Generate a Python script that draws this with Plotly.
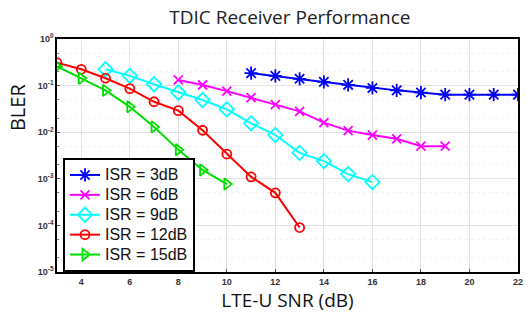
import plotly.graph_objects as go

snr_3 = [11, 12, 13, 14, 15, 16, 17, 18, 19, 20, 21, 22]
bler_3 = [0.185, 0.162, 0.14, 0.12, 0.104, 0.089, 0.079, 0.071, 0.064, 0.064, 0.064, 0.064]
snr_6 = [8, 9, 10, 11, 12, 13, 14, 15, 16, 17, 18, 19]
bler_6 = [0.132, 0.103, 0.076, 0.055, 0.039, 0.028, 0.016, 0.0108, 0.0087, 0.0072, 0.005, 0.005]
snr_9 = [5, 6, 7, 8, 9, 10, 11, 12, 13, 14, 15, 16]
bler_9 = [0.224, 0.162, 0.107, 0.071, 0.049, 0.031, 0.0155, 0.0087, 0.0036, 0.0024, 0.00126, 0.00085]
snr_12 = [3, 4, 5, 6, 7, 8, 9, 10, 11, 12, 13]
bler_12 = [0.31, 0.224, 0.144, 0.086, 0.045, 0.029, 0.011, 0.0034, 0.0011, 0.0005, 0.00009]
snr_15 = [3, 4, 5, 6, 7, 8, 9, 10]
bler_15 = [0.257, 0.144, 0.079, 0.035, 0.013, 0.0042, 0.00155, 0.00077]

y_tickvals = [1e-5, 1e-4, 1e-3, 1e-2, 1e-1, 1]
y_ticktext = ["10<sup>-5</sup>", "10<sup>-4</sup>", "10<sup>-3</sup>",
              "10<sup>-2</sup>", "10<sup>-1</sup>", "10<sup>0</sup>"]
x_tickvals = [4, 6, 8, 10, 12, 14, 16, 18, 20, 22]

series = [
    ("ISR = 3dB", snr_3, bler_3, "#0000ff", "asterisk-open", 11),
    ("ISR = 6dB", snr_6, bler_6, "#ff00ff", "x-thin-open", 9),
    ("ISR = 9dB", snr_9, bler_9, "#00ffff", "diamond-open", 11),
    ("ISR = 12dB", snr_12, bler_12, "#ff0000", "circle-open", 9),
    ("ISR = 15dB", snr_15, bler_15, "#00dd00", "triangle-right-open", 10),
]

fig = go.Figure()
for name, x, y, c, sym, sz in series:
    fig.add_trace(go.Scatter(
        x=x, y=y, name="<span style='font-size:16px'>" + name + "</span>",
        mode="lines+markers",
        line=dict(color=c, width=2),
        marker=dict(symbol=sym, size=sz, color=c, line=dict(color=c, width=1.8)),
    ))

fig.update_layout(
    width=527, height=320,
    margin=dict(l=57, r=4, t=39, b=48),
    paper_bgcolor="white", plot_bgcolor="white",
    title=dict(text="TDIC Receiver Performance", x=0.55, xanchor="center",
               y=0.947, yanchor="middle",
               font=dict(family="Open Sans", size=19, color="#222")),
    showlegend=True,
    legend=dict(x=0.013, y=0.0, xanchor="left", yanchor="bottom",
                bgcolor="white", bordercolor="black", borderwidth=2,
                font=dict(family="Arial", size=13, color="#111"),
                tracegroupgap=0, itemwidth=30),
    xaxis=dict(range=[3, 22.001], tickvals=x_tickvals,
               showline=True, linecolor="black", linewidth=1.5, mirror=True,
               gridcolor="#e2e2e2", zeroline=False, ticks="inside", ticklen=3,
               tickcolor="#555",
               tickfont=dict(family="Arial", size=9, color="#333", weight="bold"),
               title=dict(text="LTE-U SNR (dB)", standoff=8,
                          font=dict(family="Open Sans", size=19, color="#111"))),
    yaxis=dict(type="log", range=[-5, 0], tickvals=y_tickvals, ticktext=y_ticktext,
               showline=True, linecolor="black", linewidth=1.5, mirror=True,
               gridcolor="#e2e2e2", zeroline=False, ticks="inside", ticklen=3,
               tickcolor="#555",
               minor=dict(showgrid=True, gridcolor="#f2f2f2", griddash="dot",
                          ticks="inside", ticklen=2, tickcolor="#777"),
               tickfont=dict(family="Arial", size=9, color="#333", weight="bold")),
    annotations=[dict(text="BLER", xref="paper", yref="paper",
                      x=-0.086, y=0.705, xanchor="center", yanchor="middle",
                      textangle=-90, showarrow=False,
                      font=dict(family="Open Sans", size=20, color="#111"))],
)

fig.write_html("out.html")
